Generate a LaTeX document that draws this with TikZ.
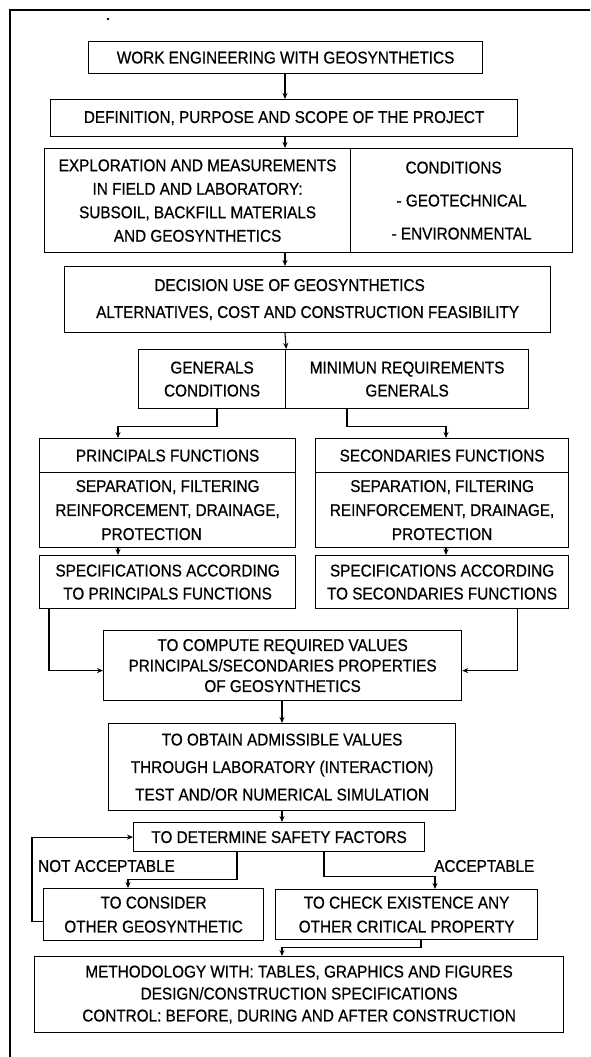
\documentclass[tikz,border=0pt]{standalone}
\usepackage{fontspec}
\setmainfont{Liberation Sans}[FakeStretch=0.9,FakeBold=0.6]
\usetikzlibrary{arrows.meta}
\tikzset{
  box/.style={draw, line width=1.2pt, inner sep=0pt, anchor=north west, align=center},
  lsp/.style={font=\fontsize{17}{#1}\selectfont},
  arr/.style={line width=1.1pt, -{Stealth[length=6pt,width=5pt]}},
  lbl/.style={inner sep=0pt, font=\fontsize{17}{18}\selectfont},
  frame/.style={line width=1.6pt}
}
\begin{document}
\begin{tikzpicture}[x=1pt,y=-1pt]
\useasboundingbox (0,0) rectangle (590,1057);
\draw[frame] (10,1057) -- (10,10) -- (590,10);
\fill (108,19) circle (1.4pt);
\coordinate (ax) at (285,0);
\coordinate (bx) at (282,0);

\node[box, lsp=18, minimum width=394pt, minimum height=32pt] (b1) at (88,41) {WORK ENGINEERING WITH GEOSYNTHETICS};
\node[box, lsp=18, minimum width=467pt, minimum height=37pt] (b2) at (50,99) {DEFINITION, PURPOSE AND SCOPE OF THE PROJECT};
\node[box, lsp=23.5, minimum width=306pt, minimum height=104pt] (b3l) at (44,148) {EXPLORATION AND MEASUREMENTS\\IN FIELD AND LABORATORY:\\SUBSOIL, BACKFILL MATERIALS\\AND GEOSYNTHETICS};
\node[box, lsp=33, minimum width=222pt, minimum height=104pt] (b3r) at (350,148) {CONDITIONS\hspace*{16pt}\\- GEOTECHNICAL\hspace*{20pt}\\- ENVIRONMENTAL};
\node[box, lsp=27, minimum width=486pt, minimum height=66pt] (b4) at (64,266) {DECISION USE OF GEOSYNTHETICS\hspace*{36pt}\\ALTERNATIVES, COST AND CONSTRUCTION FEASIBILITY};
\node[box, lsp=23, minimum width=147pt, minimum height=59pt] (b5l) at (138,349) {GENERALS\\CONDITIONS};
\node[box, lsp=23, minimum width=243pt, minimum height=59pt] (b5r) at (285,349) {MINIMUN REQUIREMENTS\\GENERALS};

\node[box, lsp=18, minimum width=256pt, minimum height=34pt] (b6lh) at (39,438) {PRINCIPALS FUNCTIONS};
\node[box, lsp=24, minimum width=256pt, minimum height=75pt] (b6lb) at (39,472) {SEPARATION, FILTERING\\REINFORCEMENT, DRAINAGE,\\PROTECTION\hspace*{32pt}};
\node[box, lsp=23, minimum width=256pt, minimum height=53pt] (b6ls) at (39,555) {SPECIFICATIONS ACCORDING\\TO PRINCIPALS FUNCTIONS};
\node[box, lsp=18, minimum width=253pt, minimum height=34pt] (b6rh) at (315,438) {SECONDARIES FUNCTIONS};
\node[box, lsp=24, minimum width=253pt, minimum height=75pt] (b6rb) at (315,472) {SEPARATION, FILTERING\\REINFORCEMENT, DRAINAGE,\\PROTECTION};
\node[box, lsp=23, minimum width=253pt, minimum height=53pt] (b6rs) at (315,555) {SPECIFICATIONS ACCORDING\\TO SECONDARIES FUNCTIONS};

\node[box, lsp=20.5, minimum width=358pt, minimum height=70pt] (b7) at (103,630) {TO COMPUTE REQUIRED VALUES\\PRINCIPALS/SECONDARIES PROPERTIES\\OF GEOSYNTHETICS};
\node[box, lsp=27.5, minimum width=347pt, minimum height=87pt] (b8) at (108,723) {TO OBTAIN ADMISSIBLE VALUES\\THROUGH LABORATORY (INTERACTION)\\TEST AND/OR NUMERICAL SIMULATION};
\node[box, lsp=18, minimum width=291pt, minimum height=29pt] (b9) at (133,822) {TO DETERMINE SAFETY FACTORS};
\node[box, lsp=24, minimum width=220pt, minimum height=52pt] (b10) at (43,888) {TO CONSIDER\\OTHER GEOSYNTHETIC};
\node[box, lsp=24, minimum width=262pt, minimum height=50pt] (b11) at (275,889) {TO CHECK EXISTENCE ANY\\OTHER CRITICAL PROPERTY};
\node[box, lsp=22, minimum width=529pt, minimum height=76pt] (b12) at (34,956) {METHODOLOGY WITH: TABLES, GRAPHICS AND FIGURES\\DESIGN/CONSTRUCTION SPECIFICATIONS\hspace*{38pt}\\CONTROL: BEFORE, DURING AND AFTER CONSTRUCTION};

\node[lbl, anchor=west] (na) at (38,866) {NOT ACCEPTABLE};
\node[lbl, anchor=west] (ac) at (434,866) {ACCEPTABLE};

\draw[arr] (b1.south -| ax) -- (b2.north -| ax);
\draw[arr] (b2.south -| ax) -- (b3l.north -| ax);
\draw[arr] (b3l.south -| ax) -- (b4.north -| ax);
\draw[arr] (b4.south -| ax) -- (b5l.north east);
\draw[arr] ([xshift=79pt]b5l.south west) -- ++(0,17) -| ([xshift=79pt]b6lh.north west);
\draw[arr] ([xshift=62pt]b5r.south west) -- ++(0,17) -| ([xshift=131pt]b6rh.north west);
\draw[arr] ([xshift=79pt]b6lb.south west) -- ([xshift=79pt]b6ls.north west);
\draw[arr] ([xshift=131pt]b6rb.south west) -- ([xshift=131pt]b6rs.north west);
\draw[arr] ([xshift=10pt]b6ls.south west) |- ([yshift=-5pt]b7.west);
\draw[arr] ([xshift=-52pt]b6rs.south east) |- ([yshift=-5pt]b7.east);
\draw[arr] (b7.south -| bx) -- (b8.north -| bx);
\draw[arr] (b8.south -| bx) -- (b9.north -| bx);
\draw[arr] ([xshift=104pt]b9.south west) -- ++(0,27) -| ([xshift=85pt]b10.north west);
\draw[arr] ([yshift=-7pt]b10.west) -- ++(-11,0) |- (b9.west);
\draw[arr] ([xshift=191pt]b9.south west) -- ++(0,24) -| ([xshift=160pt]b11.north west);
\draw[arr] ([xshift=146pt]b11.south west) -- ++(0,7) -| (b12.north -| bx);
\end{tikzpicture}
\end{document}
